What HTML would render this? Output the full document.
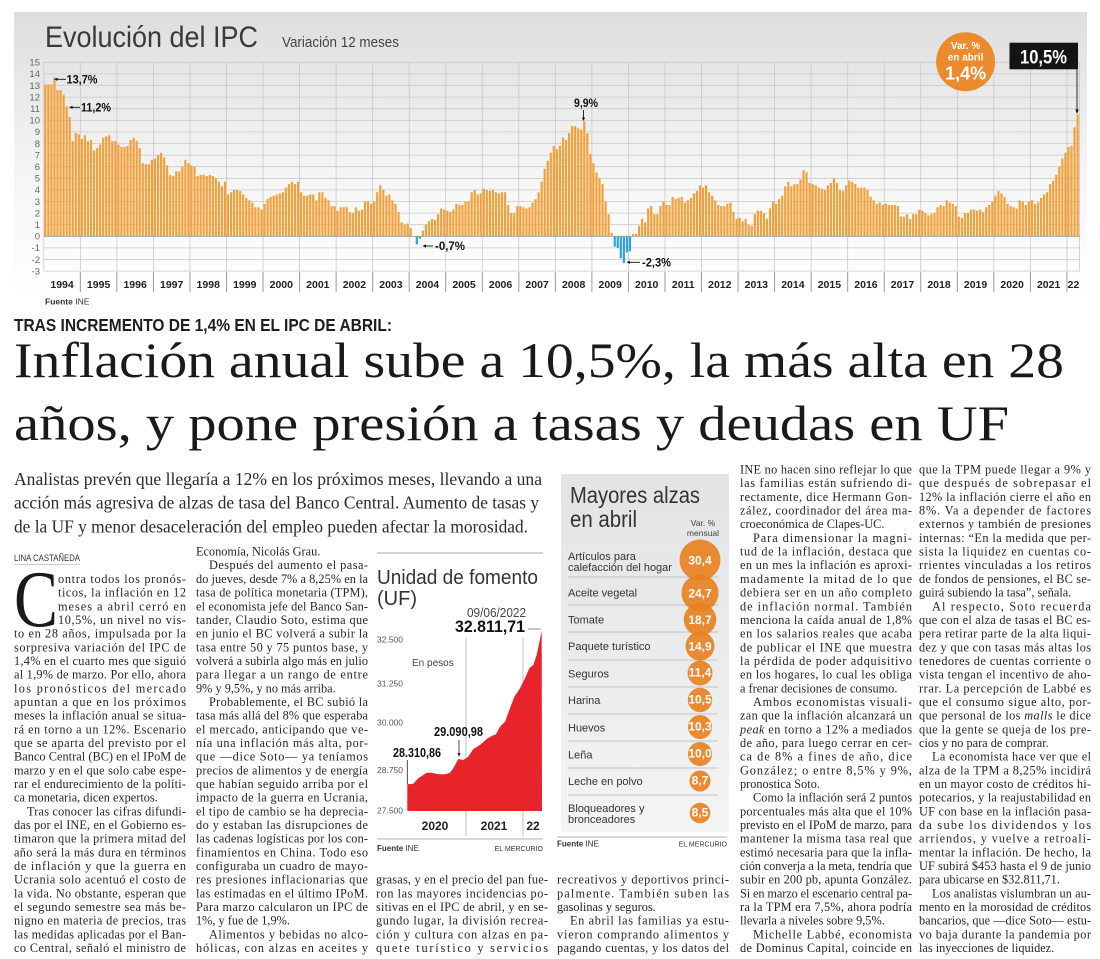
<!DOCTYPE html>
<html lang="es"><head><meta charset="utf-8"><title>Inflación anual sube a 10,5%</title>
<style>
html,body{margin:0;padding:0;background:#fff;}
body{width:1100px;height:959px;overflow:hidden;position:relative;}
svg{position:absolute;left:0;top:0;display:block;}
.s{font-family:"Liberation Sans",sans-serif;}
.r{font-family:"Liberation Serif",serif;}
.b{font-family:"Liberation Serif",serif;font-size:12.3px;fill:#262626;}
.yl{font-family:"Liberation Sans",sans-serif;font-size:9.5px;fill:#666;text-anchor:end;}
.yr{font-family:"Liberation Sans",sans-serif;font-size:10.5px;font-weight:bold;fill:#222;text-anchor:middle;}
.tr{font-family:"Liberation Sans",sans-serif;font-size:11px;fill:#333;}
.cn{font-family:"Liberation Sans",sans-serif;font-size:12px;font-weight:bold;fill:#fff;text-anchor:middle;}
</style></head>
<body>
<svg width="1100" height="959" viewBox="0 0 1100 959" xmlns="http://www.w3.org/2000/svg">
<defs>
<linearGradient id="pg" x1="0" y1="0" x2="0" y2="1">
<stop offset="0" stop-color="#dedede"/><stop offset="0.6" stop-color="#f6f6f6"/><stop offset="1" stop-color="#ffffff"/>
</linearGradient>
<linearGradient id="tg" x1="0" y1="0" x2="0" y2="1">
<stop offset="0" stop-color="#e1e3e5"/><stop offset="1" stop-color="#f4f4f4"/>
</linearGradient>
</defs>

<!-- ===== TOP CHART ===== -->
<rect x="14" y="12" width="1073" height="285" fill="url(#pg)"/>
<text class="s" x="45" y="47" font-size="30" fill="#3a3a3a" textLength="213" lengthAdjust="spacingAndGlyphs">Evolución del IPC</text>
<text class="s" x="282" y="47" font-size="15" fill="#444" textLength="117" lengthAdjust="spacingAndGlyphs">Variación 12 meses</text>

<path d="M44 62.3H1080M44 73.9H1080M44 85.5H1080M44 97.1H1080M44 108.7H1080M44 120.3H1080M44 131.9H1080M44 143.5H1080M44 155.1H1080M44 166.7H1080M44 178.3H1080M44 189.9H1080M44 201.5H1080M44 213.1H1080M44 224.7H1080M44 247.9H1080M44 259.5H1080M44 271.1H1080" stroke="#c9c9c9" stroke-width="0.8" fill="none"/>
<path d="M43.8 62.3V271.1M80.34 62.3V271.1M116.88 62.3V271.1M153.42 62.3V271.1M189.96 62.3V271.1M226.5 62.3V271.1M263.04 62.3V271.1M299.58 62.3V271.1M336.12 62.3V271.1M372.66 62.3V271.1M409.2 62.3V271.1M445.74 62.3V271.1M482.28 62.3V271.1M518.82 62.3V271.1M555.36 62.3V271.1M591.9 62.3V271.1M628.44 62.3V271.1M664.98 62.3V271.1M701.52 62.3V271.1M738.06 62.3V271.1M774.6 62.3V271.1M811.14 62.3V271.1M847.68 62.3V271.1M884.22 62.3V271.1M920.76 62.3V271.1M957.3 62.3V271.1M993.84 62.3V271.1M1030.38 62.3V271.1M1066.92 62.3V271.1M1079.5 62.3V271.1" stroke="#c9c9c9" stroke-width="0.8" fill="none"/>

<g transform="translate(43.8,236.3) scale(3.045,-11.6)">
<path fill="#f2a03a" d="M.14 0
v13.1h.72V0zm1 0v13.1h.72V0zm1 0v13.1h.72V0zm1 0v13.7h.72V0zm1 0v12.6h.72V0zm1 0v12.6h.72V0zm1 0v12.2h.72V0zm1 0v11.2h.72V0zm1 0v10.3h.72V0zm1 0v8.2h.72V0zm1 0v8.9h.72V0zm1 0v8.8h.72V0zm1 0
v8.4h.72V0zm1 0v8.7h.72V0zm1 0v8.2h.72V0zm1 0v8.3h.72V0zm1 0v7.4h.72V0zm1 0v7.6h.72V0zm1 0v7.9h.72V0zm1 0v8.5h.72V0zm1 0v8.6h.72V0zm1 0v8.7h.72V0zm1 0v8.2h.72V0zm1 0v8.2h.72V0zm1 0
v7.9h.72V0zm1 0v7.7h.72V0zm1 0v7.7h.72V0zm1 0v7.8h.72V0zm1 0v8.3h.72V0zm1 0v8.5h.72V0zm1 0v8.2h.72V0zm1 0v7.6h.72V0zm1 0v6.3h.72V0zm1 0v6.2h.72V0zm1 0v6.2h.72V0zm1 0v6.6h.72V0zm1 0
v6.7h.72V0zm1 0v7h.72V0zm1 0v7.2h.72V0zm1 0v6.8h.72V0zm1 0v6.1h.72V0zm1 0v5.3h.72V0zm1 0v5.2h.72V0zm1 0v5.6h.72V0zm1 0v5.6h.72V0zm1 0v6h.72V0zm1 0v6.6h.72V0zm1 0v6.3h.72V0zm1 0
v6.1h.72V0zm1 0v6h.72V0zm1 0v5.2h.72V0zm1 0v5.3h.72V0zm1 0v5.3h.72V0zm1 0v5.2h.72V0zm1 0v5.3h.72V0zm1 0v5.2h.72V0zm1 0v5h.72V0zm1 0v4.7h.72V0zm1 0v4.3h.72V0zm1 0v4.7h.72V0zm1 0
v3.6h.72V0zm1 0v3.8h.72V0zm1 0v4h.72V0zm1 0v4h.72V0zm1 0v3.9h.72V0zm1 0v3.6h.72V0zm1 0v3.3h.72V0zm1 0v3.1h.72V0zm1 0v2.9h.72V0zm1 0v2.5h.72V0zm1 0v2.5h.72V0zm1 0v2.3h.72V0zm1 0
v2.8h.72V0zm1 0v3.2h.72V0zm1 0v3.4h.72V0zm1 0v3.5h.72V0zm1 0v3.6h.72V0zm1 0v3.7h.72V0zm1 0v3.8h.72V0zm1 0v4.2h.72V0zm1 0v4.5h.72V0zm1 0v4.7h.72V0zm1 0v4.5h.72V0zm1 0v4.7h.72V0zm1 0
v3.8h.72V0zm1 0v3.5h.72V0zm1 0v3.5h.72V0zm1 0v3.6h.72V0zm1 0v3.6h.72V0zm1 0v3.1h.72V0zm1 0v3.8h.72V0zm1 0v3.8h.72V0zm1 0v3.3h.72V0zm1 0v3.1h.72V0zm1 0v2.6h.72V0zm1 0v2.6h.72V0zm1 0
v2.2h.72V0zm1 0v2.5h.72V0zm1 0v2.5h.72V0zm1 0v2.5h.72V0zm1 0v2.1h.72V0zm1 0v2h.72V0zm1 0v2.5h.72V0zm1 0v2.2h.72V0zm1 0v2.3h.72V0zm1 0v3h.72V0zm1 0v3h.72V0zm1 0v2.8h.72V0zm1 0
v3h.72V0zm1 0v3.8h.72V0zm1 0v4.4h.72V0zm1 0v4h.72V0zm1 0v3.5h.72V0zm1 0v3.6h.72V0zm1 0v3.1h.72V0zm1 0v2.8h.72V0zm1 0v2.1h.72V0zm1 0v1.2h.72V0zm1 0v1h.72V0zm1 0v1.1h.72V0zm1 0
v.7h.72V0zm1 0m1 0m1 0m1 0v.5h.72V0zm1 0v1h.72V0zm1 0v1.3h.72V0zm1 0v1.5h.72V0zm1 0v1.4h.72V0zm1 0v1.9h.72V0zm1 0v2.4h.72V0zm1 0v2.3h.72V0zm1 0
v2.2h.72V0zm1 0v2.1h.72V0zm1 0v2.3h.72V0zm1 0v2.8h.72V0zm1 0v2.7h.72V0zm1 0v2.7h.72V0zm1 0v3h.72V0zm1 0v3h.72V0zm1 0v3.8h.72V0zm1 0v4h.72V0zm1 0v3.6h.72V0zm1 0v3.7h.72V0zm1 0
v4.1h.72V0zm1 0v4h.72V0zm1 0v3.9h.72V0zm1 0v4h.72V0zm1 0v3.8h.72V0zm1 0v3.7h.72V0zm1 0v3.8h.72V0zm1 0v3.8h.72V0zm1 0v2.7h.72V0zm1 0v2h.72V0zm1 0v2h.72V0zm1 0v2.6h.72V0zm1 0
v2.6h.72V0zm1 0v2.5h.72V0zm1 0v2.4h.72V0zm1 0v2.5h.72V0zm1 0v2.9h.72V0zm1 0v3.2h.72V0zm1 0v3.8h.72V0zm1 0v4.7h.72V0zm1 0v5.8h.72V0zm1 0v6.5h.72V0zm1 0v7.2h.72V0zm1 0v7.8h.72V0zm1 0
v7.5h.72V0zm1 0v7.8h.72V0zm1 0v8.5h.72V0zm1 0v8.3h.72V0zm1 0v8.9h.72V0zm1 0v9.5h.72V0zm1 0v9.5h.72V0zm1 0v9.3h.72V0zm1 0v9.2h.72V0zm1 0v9.9h.72V0zm1 0v8.9h.72V0zm1 0v7.1h.72V0zm1 0
v6.3h.72V0zm1 0v5.5h.72V0zm1 0v5h.72V0zm1 0v4.5h.72V0zm1 0v3h.72V0zm1 0v1.9h.72V0zm1 0v.3h.72V0zm1 0m1 0m1 0m1 0m1 0m1 0
m1 0v.2h.72V0zm1 0v.2h.72V0zm1 0v.9h.72V0zm1 0v1.5h.72V0zm1 0v1.2h.72V0zm1 0v2.4h.72V0zm1 0v2.6h.72V0zm1 0v1.9h.72V0zm1 0v1.9h.72V0zm1 0v2.6h.72V0zm1 0v3h.72V0zm1 0
v2.7h.72V0zm1 0v2.7h.72V0zm1 0v3.4h.72V0zm1 0v3.2h.72V0zm1 0v3.3h.72V0zm1 0v3.4h.72V0zm1 0v2.9h.72V0zm1 0v3.1h.72V0zm1 0v3.3h.72V0zm1 0v3.7h.72V0zm1 0v3.9h.72V0zm1 0v4.4h.72V0zm1 0
v4.2h.72V0zm1 0v4.4h.72V0zm1 0v3.8h.72V0zm1 0v3.5h.72V0zm1 0v3.1h.72V0zm1 0v2.7h.72V0zm1 0v2.6h.72V0zm1 0v2.6h.72V0zm1 0v2.8h.72V0zm1 0v2.9h.72V0zm1 0v2.1h.72V0zm1 0v1.5h.72V0zm1 0
v1.6h.72V0zm1 0v1.3h.72V0zm1 0v1.5h.72V0zm1 0v1h.72V0zm1 0v.9h.72V0zm1 0v1.9h.72V0zm1 0v2.2h.72V0zm1 0v2.2h.72V0zm1 0v2h.72V0zm1 0v1.5h.72V0zm1 0v2.4h.72V0zm1 0v3h.72V0zm1 0
v2.8h.72V0zm1 0v3.2h.72V0zm1 0v3.5h.72V0zm1 0v4.3h.72V0zm1 0v4.7h.72V0zm1 0v4.3h.72V0zm1 0v4.5h.72V0zm1 0v4.5h.72V0zm1 0v4.9h.72V0zm1 0v5.7h.72V0zm1 0v5.5h.72V0zm1 0v4.6h.72V0zm1 0
v4.5h.72V0zm1 0v4.4h.72V0zm1 0v4.2h.72V0zm1 0v4.1h.72V0zm1 0v4h.72V0zm1 0v4.4h.72V0zm1 0v4.6h.72V0zm1 0v5h.72V0zm1 0v4.6h.72V0zm1 0v4h.72V0zm1 0v3.9h.72V0zm1 0v4.4h.72V0zm1 0
v4.8h.72V0zm1 0v4.7h.72V0zm1 0v4.5h.72V0zm1 0v4.2h.72V0zm1 0v4.2h.72V0zm1 0v4.2h.72V0zm1 0v4h.72V0zm1 0v3.4h.72V0zm1 0v3.1h.72V0zm1 0v2.8h.72V0zm1 0v2.9h.72V0zm1 0v2.7h.72V0zm1 0
v2.8h.72V0zm1 0v2.7h.72V0zm1 0v2.7h.72V0zm1 0v2.7h.72V0zm1 0v2.6h.72V0zm1 0v1.7h.72V0zm1 0v1.7h.72V0zm1 0v1.9h.72V0zm1 0v1.5h.72V0zm1 0v1.9h.72V0zm1 0v1.9h.72V0zm1 0v2.3h.72V0zm1 0
v2.2h.72V0zm1 0v2h.72V0zm1 0v1.8h.72V0zm1 0v1.9h.72V0zm1 0v2h.72V0zm1 0v2.5h.72V0zm1 0v2.7h.72V0zm1 0v2.6h.72V0zm1 0v3.1h.72V0zm1 0v2.9h.72V0zm1 0v2.8h.72V0zm1 0v2.6h.72V0zm1 0
v1.7h.72V0zm1 0v1.6h.72V0zm1 0v2h.72V0zm1 0v2h.72V0zm1 0v2.3h.72V0zm1 0v2.3h.72V0zm1 0v2.2h.72V0zm1 0v2.3h.72V0zm1 0v2.1h.72V0zm1 0v2.5h.72V0zm1 0v2.7h.72V0zm1 0v3h.72V0zm1 0
v3.5h.72V0zm1 0v3.9h.72V0zm1 0v3.7h.72V0zm1 0v3.4h.72V0zm1 0v2.8h.72V0zm1 0v2.6h.72V0zm1 0v2.5h.72V0zm1 0v2.4h.72V0zm1 0v3.1h.72V0zm1 0v3h.72V0zm1 0v2.7h.72V0zm1 0v3h.72V0zm1 0
v3.1h.72V0zm1 0v2.8h.72V0zm1 0v2.9h.72V0zm1 0v3.3h.72V0zm1 0v3.6h.72V0zm1 0v3.8h.72V0zm1 0v4.5h.72V0zm1 0v4.8h.72V0zm1 0v5.3h.72V0zm1 0v6h.72V0zm1 0v6.7h.72V0zm1 0v7.2h.72V0zm1 0
v7.7h.72V0zm1 0v7.8h.72V0zm1 0v9.4h.72V0zm1 0v10.5h.72V0zm1 0"/>
<path fill="#2ea3dd" d="M122.14 0v-.7h.72V0zM123.14 0v-.2h.72V0zM187.14 0v-.9h.72V0zM188.14 0v-1h.72V0zM189.14 0v-1.9h.72V0zM190.14 0v-2.3h.72V0zM191.14 0v-1.4h.72V0zM192.14 0v-1.3h.72V0z"/>
</g>
<line x1="44" y1="236.3" x2="1080" y2="236.3" stroke="#9a9a9a" stroke-width="0.8"/>

<!-- y labels -->
<text class="yl" x="40" y="65.6">15</text><text class="yl" x="40" y="77.2">14</text><text class="yl" x="40" y="88.8">13</text>
<text class="yl" x="40" y="100.4">12</text><text class="yl" x="40" y="112">11</text><text class="yl" x="40" y="123.6">10</text>
<text class="yl" x="40" y="135.2">9</text><text class="yl" x="40" y="146.8">8</text><text class="yl" x="40" y="158.4">7</text>
<text class="yl" x="40" y="170">6</text><text class="yl" x="40" y="181.6">5</text><text class="yl" x="40" y="193.2">4</text>
<text class="yl" x="40" y="204.8">3</text><text class="yl" x="40" y="216.4">2</text><text class="yl" x="40" y="228">1</text>
<text class="yl" x="40" y="239.6">0</text><text class="yl" x="40" y="251.2">-1</text><text class="yl" x="40" y="262.8">-2</text>
<text class="yl" x="40" y="274.4">-3</text>

<!-- year separators & labels -->
<path d="M80.34 272V292M116.88 272V292M153.42 272V292M189.96 272V292M226.5 272V292M263.04 272V292M299.58 272V292M336.12 272V292M372.66 272V292M409.2 272V292M445.74 272V292M482.28 272V292M518.82 272V292M555.36 272V292M591.9 272V292M628.44 272V292M664.98 272V292M701.52 272V292M738.06 272V292M774.6 272V292M811.14 272V292M847.68 272V292M884.22 272V292M920.76 272V292M957.3 272V292M993.84 272V292M1030.38 272V292M1066.92 272V292" stroke="#999" stroke-width="1" fill="none"/>
<text class="yr" x="62.07" y="288">1994</text><text class="yr" x="98.61" y="288">1995</text><text class="yr" x="135.15" y="288">1996</text>
<text class="yr" x="171.69" y="288">1997</text><text class="yr" x="208.23" y="288">1998</text><text class="yr" x="244.77" y="288">1999</text>
<text class="yr" x="281.31" y="288">2000</text><text class="yr" x="317.85" y="288">2001</text><text class="yr" x="354.39" y="288">2002</text>
<text class="yr" x="390.93" y="288">2003</text><text class="yr" x="427.47" y="288">2004</text><text class="yr" x="464.01" y="288">2005</text>
<text class="yr" x="500.55" y="288">2006</text><text class="yr" x="537.09" y="288">2007</text><text class="yr" x="573.63" y="288">2008</text>
<text class="yr" x="610.17" y="288">2009</text><text class="yr" x="646.71" y="288">2010</text><text class="yr" x="683.25" y="288">2011</text>
<text class="yr" x="719.79" y="288">2012</text><text class="yr" x="756.33" y="288">2013</text><text class="yr" x="792.87" y="288">2014</text>
<text class="yr" x="829.41" y="288">2015</text><text class="yr" x="865.95" y="288">2016</text><text class="yr" x="902.49" y="288">2017</text>
<text class="yr" x="939.03" y="288">2018</text><text class="yr" x="975.57" y="288">2019</text><text class="yr" x="1012.11" y="288">2020</text>
<text class="yr" x="1048.65" y="288">2021</text><text class="yr" x="1073.5" y="288">22</text>

<!-- annotations -->
<g stroke="#111" stroke-width="0.9" fill="none">
<line x1="56" y1="79.3" x2="66" y2="79.3"/>
<line x1="71" y1="107.3" x2="80" y2="107.3"/>
<line x1="425" y1="246" x2="433" y2="246"/>
<line x1="583.5" y1="110" x2="583.5" y2="118"/>
<line x1="629" y1="262.3" x2="640" y2="262.3"/>
<line x1="1077" y1="69.3" x2="1077" y2="110"/>
</g>
<g fill="#111">
<polygon points="54,79.3 57.5,77.7 57.5,80.9"/>
<polygon points="69,107.3 72.5,105.7 72.5,108.9"/>
<polygon points="422.5,246 426,244.4 426,247.6"/>
<polygon points="583.5,121 581.9,117.5 585.1,117.5"/>
<polygon points="626.5,262.3 630,260.7 630,263.9"/>
<polygon points="1077,114 1075.3,109.5 1078.7,109.5"/>
</g>
<text class="s" x="66.5" y="83.5" font-size="12" font-weight="bold" fill="#111" textLength="31" lengthAdjust="spacingAndGlyphs">13,7%</text>
<text class="s" x="81" y="111.5" font-size="12" font-weight="bold" fill="#111" textLength="30" lengthAdjust="spacingAndGlyphs">11,2%</text>
<text class="s" x="435" y="250.2" font-size="12" font-weight="bold" fill="#111" textLength="30" lengthAdjust="spacingAndGlyphs">-0,7%</text>
<text class="s" x="574" y="106.8" font-size="12" font-weight="bold" fill="#111" textLength="24" lengthAdjust="spacingAndGlyphs">9,9%</text>
<text class="s" x="642" y="266.5" font-size="12" font-weight="bold" fill="#111" textLength="29" lengthAdjust="spacingAndGlyphs">-2,3%</text>

<circle cx="965.6" cy="61.7" r="29.5" fill="#ec8b2e"/>
<text class="s" x="965.6" y="49" font-size="10" font-weight="bold" fill="#fff" text-anchor="middle">Var. %</text>
<text class="s" x="965.6" y="60.3" font-size="10" font-weight="bold" fill="#fff" text-anchor="middle">en abril</text>
<text class="s" x="965.6" y="79.5" font-size="18" font-weight="bold" fill="#fff" text-anchor="middle">1,4%</text>

<rect x="1009.5" y="42.7" width="68.5" height="26.6" fill="#141414"/>
<text class="s" x="1020" y="63.5" font-size="19.5" font-weight="bold" fill="#fff" textLength="47" lengthAdjust="spacingAndGlyphs">10,5%</text>

<text class="s" x="45" y="304.5" font-size="8.5" fill="#333"><tspan font-weight="bold">Fuente</tspan> INE</text>

<!-- ===== HEADLINE ===== -->
<text class="s" x="14" y="331" font-size="17.7" font-weight="bold" fill="#1e1e1e" textLength="378" lengthAdjust="spacingAndGlyphs">TRAS INCREMENTO DE 1,4% EN EL IPC DE ABRIL:</text>
<text class="r" x="14" y="377" font-size="50" fill="#1a1a1a" textLength="1050" lengthAdjust="spacingAndGlyphs">Inflación anual sube a 10,5%, la más alta en 28</text>
<text class="r" x="14" y="440" font-size="50" fill="#1a1a1a" textLength="995" lengthAdjust="spacingAndGlyphs">años, y pone presión a tasas y deudas en UF</text>

<text class="r" x="14" y="485" font-size="17.5" fill="#2b2b2b" textLength="528" lengthAdjust="spacingAndGlyphs">Analistas prevén que llegaría a 12% en los próximos meses, llevando a una</text>
<text class="r" x="14" y="508.5" font-size="17.5" fill="#2b2b2b" textLength="525" lengthAdjust="spacingAndGlyphs">acción más agresiva de alzas de tasa del Banco Central. Aumento de tasas y</text>
<text class="r" x="14" y="532.5" font-size="17.5" fill="#2b2b2b" textLength="514" lengthAdjust="spacingAndGlyphs">de la UF y menor desaceleración del empleo pueden afectar la morosidad.</text>

<!-- byline -->
<text class="s" x="14" y="561" font-size="9" fill="#333" textLength="66" lengthAdjust="spacingAndGlyphs">LINA CASTAÑEDA</text>
<line x1="14" y1="564.5" x2="80" y2="564.5" stroke="#999" stroke-width="0.6"/>

<!-- ===== COLUMN 1 ===== -->
<text class="r" x="14" y="626" font-size="80" fill="#1a1a1a" textLength="44" lengthAdjust="spacingAndGlyphs">C</text>
<text class="b" x="58" y="582.91" textLength="128">ontra todos los pronós-</text>
<text class="b" x="58" y="596.58" textLength="128">ticos, la inflación en 12</text>
<text class="b" x="58" y="610.25" textLength="128">meses a abril cerró en</text>
<text class="b" x="58" y="623.92" textLength="128">10,5%, un nivel no vis-</text>
<text class="b" x="14" y="637.59" textLength="172">to en 28 años, impulsada por la</text>
<text class="b" x="14" y="651.26" textLength="172">sorpresiva variación del IPC de</text>
<text class="b" x="14" y="664.93" textLength="172">1,4% en el cuarto mes que siguió</text>
<text class="b" x="14" y="678.6" textLength="172">al 1,9% de marzo. Por ello, ahora</text>
<text class="b" x="14" y="692.27" textLength="172">los pronósticos del mercado</text>
<text class="b" x="14" y="705.94" textLength="172">apuntan a que en los próximos</text>
<text class="b" x="14" y="719.61" textLength="172">meses la inflación anual se situa-</text>
<text class="b" x="14" y="733.28" textLength="172">rá en torno a un 12%. Escenario</text>
<text class="b" x="14" y="746.95" textLength="172">que se aparta del previsto por el</text>
<text class="b" x="14" y="760.62" textLength="172">Banco Central (BC) en el IPoM de</text>
<text class="b" x="14" y="774.29" textLength="172">marzo y en el que solo cabe espe-</text>
<text class="b" x="14" y="787.96" textLength="172">rar el endurecimiento de la políti-</text>
<text class="b" x="14" y="801.63">ca monetaria, dicen expertos.</text>
<text class="b" x="27" y="815.3" textLength="159">Tras conocer las cifras difundi-</text>
<text class="b" x="14" y="828.97" textLength="172">das por el INE, en el Gobierno es-</text>
<text class="b" x="14" y="842.64" textLength="172">timaron que la primera mitad del</text>
<text class="b" x="14" y="856.31" textLength="172">año será la más dura en términos</text>
<text class="b" x="14" y="869.98" textLength="172">de inflación y que la guerra en</text>
<text class="b" x="14" y="883.65" textLength="172">Ucrania solo acentuó el costo de</text>
<text class="b" x="14" y="897.32" textLength="172">la vida. No obstante, esperan que</text>
<text class="b" x="14" y="910.99" textLength="172">el segundo semestre sea más be-</text>
<text class="b" x="14" y="924.66" textLength="172">nigno en materia de precios, tras</text>
<text class="b" x="14" y="938.33" textLength="172">las medidas aplicadas por el Ban-</text>
<text class="b" x="14" y="952" textLength="172">co Central, señaló el ministro de</text>

<!-- ===== COLUMN 2 ===== -->
<text class="b" x="196" y="555.57">Economía, Nicolás Grau.</text>
<text class="b" x="209" y="569.24" textLength="159">Después del aumento el pasa-</text>
<text class="b" x="196" y="582.91" textLength="172">do jueves, desde 7% a 8,25% en la</text>
<text class="b" x="196" y="596.58" textLength="172">tasa de política monetaria (TPM),</text>
<text class="b" x="196" y="610.25" textLength="172">el economista jefe del Banco San-</text>
<text class="b" x="196" y="623.92" textLength="172">tander, Claudio Soto, estima que</text>
<text class="b" x="196" y="637.59" textLength="172">en junio el BC volverá a subir la</text>
<text class="b" x="196" y="651.26" textLength="172">tasa entre 50 y 75 puntos base, y</text>
<text class="b" x="196" y="664.93" textLength="172">volverá a subirla algo más en julio</text>
<text class="b" x="196" y="678.6" textLength="172">para llegar a un rango de entre</text>
<text class="b" x="196" y="692.27">9% y 9,5%, y no más arriba.</text>
<text class="b" x="209" y="705.94" textLength="159">Probablemente, el BC subió la</text>
<text class="b" x="196" y="719.61" textLength="172">tasa más allá del 8% que esperaba</text>
<text class="b" x="196" y="733.28" textLength="172">el mercado, anticipando que ve-</text>
<text class="b" x="196" y="746.95" textLength="172">nía una inflación más alta, por-</text>
<text class="b" x="196" y="760.62" textLength="172">que —dice Soto— ya teníamos</text>
<text class="b" x="196" y="774.29" textLength="172">precios de alimentos y de energía</text>
<text class="b" x="196" y="787.96" textLength="172">que habían seguido arriba por el</text>
<text class="b" x="196" y="801.63" textLength="172">impacto de la guerra en Ucrania,</text>
<text class="b" x="196" y="815.3" textLength="172">el tipo de cambio se ha deprecia-</text>
<text class="b" x="196" y="828.97" textLength="172">do y estaban las disrupciones de</text>
<text class="b" x="196" y="842.64" textLength="172">las cadenas logísticas por los con-</text>
<text class="b" x="196" y="856.31" textLength="172">finamientos en China. Todo eso</text>
<text class="b" x="196" y="869.98" textLength="172">configuraba un cuadro de mayo-</text>
<text class="b" x="196" y="883.65" textLength="172">res presiones inflacionarias que</text>
<text class="b" x="196" y="897.32" textLength="172">las estimadas en el último IPoM.</text>
<text class="b" x="196" y="910.99" textLength="172">Para marzo calcularon un IPC de</text>
<text class="b" x="196" y="924.66">1%, y fue de 1,9%.</text>
<text class="b" x="209" y="938.33" textLength="159">Alimentos y bebidas no alco-</text>
<text class="b" x="196" y="952" textLength="172">hólicas, con alzas en aceites y</text>

<!-- ===== UF CHART ===== -->
<line x1="377" y1="553" x2="543" y2="553" stroke="#888" stroke-width="0.8"/>
<text class="s" x="377" y="584" font-size="20" fill="#333" textLength="161" lengthAdjust="spacingAndGlyphs">Unidad de fomento</text>
<text class="s" x="377" y="605" font-size="20" fill="#333">(UF)</text>
<text class="s" x="467" y="617" font-size="12.5" fill="#444" textLength="59" lengthAdjust="spacingAndGlyphs">09/06/2022</text>
<text class="s" x="455" y="632" font-size="16.5" font-weight="bold" fill="#111" textLength="70" lengthAdjust="spacingAndGlyphs">32.811,71</text>
<line x1="528" y1="629" x2="541" y2="629" stroke="#777" stroke-width="0.8"/>
<line x1="466" y1="638" x2="466" y2="836" stroke="#bbb" stroke-width="0.9"/>
<line x1="523" y1="638" x2="523" y2="836" stroke="#bbb" stroke-width="0.9"/>
<text class="s" x="377" y="642.3" font-size="8.5" fill="#555">32.500</text>
<text class="s" x="377" y="686.3" font-size="8.5" fill="#555">31.250</text>
<text class="s" x="377" y="725.3" font-size="8.5" fill="#555">30.000</text>
<text class="s" x="377" y="773" font-size="8.5" fill="#555">28.750</text>
<text class="s" x="377" y="813.7" font-size="8.5" fill="#555">27.500</text>
<text class="s" x="412" y="666" font-size="10" fill="#444">En pesos</text>
<polygon fill="#e8242b" points="407.3,784.3 413.3,783.7 418.3,778.3 426.7,772.7 431.7,772.7 438.3,774.3 445,774.3 450,772.7 453.3,768.3 458.3,759 463.3,760 468.3,756.7 473.3,749 480,745 486.7,739 491.7,736 496,734.3 500,726.7 505,721.7 510,708.3 514.3,696.7 520,688.3 525,678.3 529.3,668.3 533.3,665 536.7,655 541.7,631 542,811 407.3,811"/>
<line x1="407.3" y1="760" x2="407.3" y2="784" stroke="#222" stroke-width="0.8"/>
<text class="s" x="393" y="757" font-size="12.5" font-weight="bold" fill="#111" textLength="48" lengthAdjust="spacingAndGlyphs">28.310,86</text>
<text class="s" x="434" y="736" font-size="12.5" font-weight="bold" fill="#111" textLength="49" lengthAdjust="spacingAndGlyphs">29.090,98</text>
<line x1="459" y1="740" x2="459" y2="753" stroke="#222" stroke-width="0.8"/>
<polygon points="459,757 457.4,753 460.6,753" fill="#222"/>
<text class="s" x="435" y="830" font-size="12" font-weight="bold" fill="#222" text-anchor="middle">2020</text>
<text class="s" x="494" y="830" font-size="12" font-weight="bold" fill="#222" text-anchor="middle">2021</text>
<text class="s" x="533" y="830" font-size="12" font-weight="bold" fill="#222" text-anchor="middle">22</text>
<line x1="377" y1="839" x2="543" y2="839" stroke="#999" stroke-width="0.8"/>
<text class="s" x="377" y="851" font-size="8" fill="#333"><tspan font-weight="bold">Fuente</tspan> INE</text>
<text class="s" x="543" y="851" font-size="7" fill="#333" text-anchor="end">EL MERCURIO</text>

<!-- ===== COLUMN 3 bottom ===== -->
<text class="b" x="376" y="883.65" textLength="172">grasas, y en el precio del pan fue-</text>
<text class="b" x="376" y="897.32" textLength="172">ron las mayores incidencias po-</text>
<text class="b" x="376" y="910.99" textLength="172">sitivas en el IPC de abril, y en se-</text>
<text class="b" x="376" y="924.66" textLength="172">gundo lugar, la división recrea-</text>
<text class="b" x="376" y="938.33" textLength="172">ción y cultura con alzas en pa-</text>
<text class="b" x="376" y="952" textLength="172">quete turístico y servicios</text>

<!-- ===== TABLE ===== -->
<rect x="561" y="474" width="168" height="358" fill="url(#tg)"/>
<text class="s" x="570" y="503" font-size="23" fill="#333" textLength="130" lengthAdjust="spacingAndGlyphs">Mayores alzas</text>
<text class="s" x="570" y="527" font-size="23" fill="#333" textLength="67" lengthAdjust="spacingAndGlyphs">en abril</text>
<text class="s" x="703" y="526" font-size="8.5" fill="#444" text-anchor="middle">Var. %</text>
<text class="s" x="703" y="536" font-size="8.5" fill="#444" text-anchor="middle">mensual</text>
<path d="M568 577H718M568 605H718M568 632H718M568 660H718M568 687H718M568 714H718M568 741H718M568 768H718M568 795H718" stroke="#b5b5b5" stroke-width="0.8" fill="none"/>
<g fill="#e8801e" fill-opacity="0.9">
<circle cx="700" cy="560" r="20.5"/>
<circle cx="700" cy="593" r="18.5"/>
<circle cx="700" cy="619.5" r="16.3"/>
<circle cx="700" cy="646" r="14.5"/>
<circle cx="700" cy="673" r="12.5"/>
<circle cx="700" cy="700" r="12.2"/>
<circle cx="700" cy="727" r="12"/>
<circle cx="700" cy="754" r="12"/>
<circle cx="700" cy="781" r="10.5"/>
<circle cx="700" cy="813" r="10.3"/>
</g>
<text class="cn" x="700" y="564.5" font-size="13">30,4</text>
<text class="cn" x="700" y="597.3">24,7</text>
<text class="cn" x="700" y="623.8">18,7</text>
<text class="cn" x="700" y="650.3" font-size="11.5">14,9</text>
<text class="cn" x="700" y="676.6" font-size="10">11,4</text>
<text class="cn" x="700" y="703.6" font-size="10">10,5</text>
<text class="cn" x="700" y="730.6" font-size="10">10,3</text>
<text class="cn" x="700" y="757.6" font-size="10">10,0</text>
<text class="cn" x="700" y="784.6" font-size="10">8,7</text>
<text class="cn" x="700" y="816.6" font-size="10">8,5</text>
<text class="tr" x="568" y="560">Artículos para</text>
<text class="tr" x="568" y="571">calefacción del hogar</text>
<text class="tr" x="568" y="596.7">Aceite vegetal</text>
<text class="tr" x="568" y="623.3">Tomate</text>
<text class="tr" x="568" y="650">Paquete turístico</text>
<text class="tr" x="568" y="677.3">Seguros</text>
<text class="tr" x="568" y="704">Harina</text>
<text class="tr" x="568" y="731.3">Huevos</text>
<text class="tr" x="568" y="758.3">Leña</text>
<text class="tr" x="568" y="785">Leche en polvo</text>
<text class="tr" x="568" y="812">Bloqueadores y</text>
<text class="tr" x="568" y="823">bronceadores</text>
<line x1="557" y1="837" x2="727" y2="837" stroke="#999" stroke-width="0.8"/>
<text class="s" x="557" y="846.5" font-size="8" fill="#333"><tspan font-weight="bold">Fuente</tspan> INE</text>
<text class="s" x="727" y="846.5" font-size="7" fill="#333" text-anchor="end">EL MERCURIO</text>

<!-- ===== COLUMN 4 bottom ===== -->
<text class="b" x="557" y="883.65" textLength="172">recreativos y deportivos princi-</text>
<text class="b" x="557" y="897.32" textLength="172">palmente. También suben las</text>
<text class="b" x="557" y="910.99">gasolinas y seguros.</text>
<text class="b" x="570" y="924.66" textLength="159">En abril las familias ya estu-</text>
<text class="b" x="557" y="938.33" textLength="172">vieron comprando alimentos y</text>
<text class="b" x="557" y="952" textLength="172">pagando cuentas, y los datos del</text>

<!-- ===== COLUMN 5 ===== -->
<text class="b" x="740" y="473.55" textLength="172">INE no hacen sino reflejar lo que</text>
<text class="b" x="740" y="487.22" textLength="172">las familias están sufriendo di-</text>
<text class="b" x="740" y="500.89" textLength="172">rectamente, dice Hermann Gon-</text>
<text class="b" x="740" y="514.56" textLength="172">zález, coordinador del área ma-</text>
<text class="b" x="740" y="528.23">croeconómica de Clapes-UC.</text>
<text class="b" x="753" y="541.9" textLength="159">Para dimensionar la magni-</text>
<text class="b" x="740" y="555.57" textLength="172">tud de la inflación, destaca que</text>
<text class="b" x="740" y="569.24" textLength="172">en un mes la inflación es aproxi-</text>
<text class="b" x="740" y="582.91" textLength="172">madamente la mitad de lo que</text>
<text class="b" x="740" y="596.58" textLength="172">debiera ser en un año completo</text>
<text class="b" x="740" y="610.25" textLength="172">de inflación normal. También</text>
<text class="b" x="740" y="623.92" textLength="172">menciona la caída anual de 1,8%</text>
<text class="b" x="740" y="637.59" textLength="172">en los salarios reales que acaba</text>
<text class="b" x="740" y="651.26" textLength="172">de publicar el INE que muestra</text>
<text class="b" x="740" y="664.93" textLength="172">la pérdida de poder adquisitivo</text>
<text class="b" x="740" y="678.6" textLength="172">en los hogares, lo cual les obliga</text>
<text class="b" x="740" y="692.27">a frenar decisiones de consumo.</text>
<text class="b" x="753" y="705.94" textLength="159">Ambos economistas visuali-</text>
<text class="b" x="740" y="719.61" textLength="172">zan que la inflación alcanzará un</text>
<text class="b" x="740" y="733.28" textLength="172"><tspan font-style="italic">peak</tspan> en torno a 12% a mediados</text>
<text class="b" x="740" y="746.95" textLength="172">de año, para luego cerrar en cer-</text>
<text class="b" x="740" y="760.62" textLength="172">ca de 8% a fines de año, dice</text>
<text class="b" x="740" y="774.29" textLength="172">González; o entre 8,5% y 9%,</text>
<text class="b" x="740" y="787.96">pronostica Soto.</text>
<text class="b" x="753" y="801.63" textLength="159">Como la inflación será 2 puntos</text>
<text class="b" x="740" y="815.3" textLength="172">porcentuales más alta que el 10%</text>
<text class="b" x="740" y="828.97" textLength="172">previsto en el IPoM de marzo, para</text>
<text class="b" x="740" y="842.64" textLength="172">mantener la misma tasa real que</text>
<text class="b" x="740" y="856.31" textLength="172">estimó necesaria para que la infla-</text>
<text class="b" x="740" y="869.98" textLength="172">ción converja a la meta, tendría que</text>
<text class="b" x="740" y="883.65" textLength="172">subir en 200 pb, apunta González.</text>
<text class="b" x="740" y="897.32" textLength="172">Si en marzo el escenario central pa-</text>
<text class="b" x="740" y="910.99" textLength="172">ra la TPM era 7,5%, ahora podría</text>
<text class="b" x="740" y="924.66">llevarla a niveles sobre 9,5%.</text>
<text class="b" x="753" y="938.33" textLength="159">Michelle Labbé, economista</text>
<text class="b" x="740" y="952" textLength="172">de Dominus Capital, coincide en</text>

<!-- ===== COLUMN 6 ===== -->
<text class="b" x="919" y="473.55" textLength="172">que la TPM puede llegar a 9% y</text>
<text class="b" x="919" y="487.22" textLength="172">que después de sobrepasar el</text>
<text class="b" x="919" y="500.89" textLength="172">12% la inflación cierre el año en</text>
<text class="b" x="919" y="514.56" textLength="172">8%. Va a depender de factores</text>
<text class="b" x="919" y="528.23" textLength="172">externos y también de presiones</text>
<text class="b" x="919" y="541.9" textLength="172">internas: “En la medida que per-</text>
<text class="b" x="919" y="555.57" textLength="172">sista la liquidez en cuentas co-</text>
<text class="b" x="919" y="569.24" textLength="172">rrientes vinculadas a los retiros</text>
<text class="b" x="919" y="582.91" textLength="172">de fondos de pensiones, el BC se-</text>
<text class="b" x="919" y="596.58">guirá subiendo la tasa”, señala.</text>
<text class="b" x="932" y="610.25" textLength="159">Al respecto, Soto recuerda</text>
<text class="b" x="919" y="623.92" textLength="172">que con el alza de tasas el BC es-</text>
<text class="b" x="919" y="637.59" textLength="172">pera retirar parte de la alta liqui-</text>
<text class="b" x="919" y="651.26" textLength="172">dez y que con tasas más altas los</text>
<text class="b" x="919" y="664.93" textLength="172">tenedores de cuentas corriente o</text>
<text class="b" x="919" y="678.6" textLength="172">vista tengan el incentivo de aho-</text>
<text class="b" x="919" y="692.27" textLength="172">rrar. La percepción de Labbé es</text>
<text class="b" x="919" y="705.94" textLength="172">que el consumo sigue alto, por-</text>
<text class="b" x="919" y="719.61" textLength="172">que personal de los <tspan font-style="italic">malls</tspan> le dice</text>
<text class="b" x="919" y="733.28" textLength="172">que la gente se queja de los pre-</text>
<text class="b" x="919" y="746.95">cios y no para de comprar.</text>
<text class="b" x="932" y="760.62" textLength="159">La economista hace ver que el</text>
<text class="b" x="919" y="774.29" textLength="172">alza de la TPM a 8,25% incidirá</text>
<text class="b" x="919" y="787.96" textLength="172">en un mayor costo de créditos hi-</text>
<text class="b" x="919" y="801.63" textLength="172">potecarios, y la reajustabilidad en</text>
<text class="b" x="919" y="815.3" textLength="172">UF con base en la inflación pasa-</text>
<text class="b" x="919" y="828.97" textLength="172">da sube los dividendos y los</text>
<text class="b" x="919" y="842.64" textLength="172">arriendos, y vuelve a retroali-</text>
<text class="b" x="919" y="856.31" textLength="172">mentar la inflación. De hecho, la</text>
<text class="b" x="919" y="869.98" textLength="172">UF subirá $453 hasta el 9 de junio</text>
<text class="b" x="919" y="883.65">para ubicarse en $32.811,71.</text>
<text class="b" x="932" y="897.32" textLength="159">Los analistas vislumbran un au-</text>
<text class="b" x="919" y="910.99" textLength="172">mento en la morosidad de créditos</text>
<text class="b" x="919" y="924.66" textLength="172">bancarios, que —dice Soto— estu-</text>
<text class="b" x="919" y="938.33" textLength="172">vo baja durante la pandemia por</text>
<text class="b" x="919" y="952">las inyecciones de liquidez.</text>
</svg>
</body></html>
